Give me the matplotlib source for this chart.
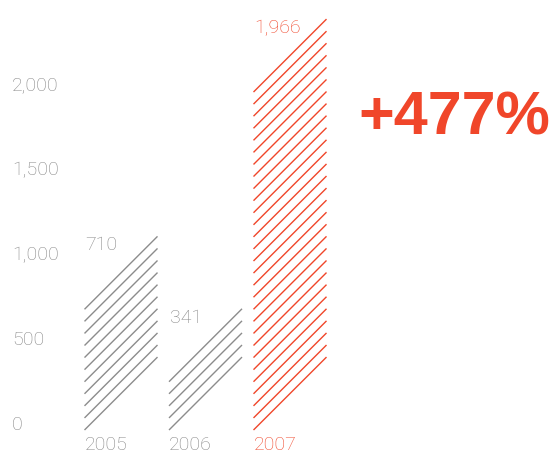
import numpy as np
import matplotlib
matplotlib.use("Agg")
import matplotlib.pyplot as plt
import matplotlib.transforms as mtransforms

# data
years = ["2005", "2006", "2007"]
values = [710, 341, 1966]
value_labels = ["710", "341", "1,966"]
ticks = [0, 500, 1000, 1500, 2000]
tick_labels = ["0", "500", "1,000", "1,500", "2,000"]
change_label = "+477%"

GRAY = "#8c8c8c"
TEXT_GRAY = "#858585"
RED = "#f0462a"
colors = [GRAY, GRAY, RED]

plt.rcParams["font.family"] = ["Roboto", "Liberation Sans", "DejaVu Sans"]
LIGHT = dict(fontsize=14, fontweight="light")

fig = plt.figure(figsize=(5.55, 4.53), dpi=100)
ax = fig.add_axes([0, 0, 1, 1])
ax.set_xlim(-1.432, 5.136)
ax.set_ylim(-135.3, 2529.4)
ax.axis("off")

width = 0.864        # bar width in category units
shear = 429          # rise of each hatch line across the bar (value units)
gap = 71             # distance between hatch lines (value units)
per_line = 70        # value represented by one hatch line

for i, (v, c) in enumerate(zip(values, colors)):
    n = int(v / per_line) + 1
    x0, x1 = i - width / 2, i + width / 2
    for k in range(n):
        y0 = k * gap
        ax.plot([x0, x1], [y0, y0 + shear], color=c, lw=1.0,
                solid_capstyle="butt")
    tc = c if c == RED else TEXT_GRAY
    top = (n - 1) * gap + shear
    ax.text(x0 + 0.01, top, value_labels[i], color=tc, va="top", ha="left", **LIGHT)
    ax.text(x0, -35, years[i], color=tc, va="top", ha="left", **LIGHT)

# y tick labels, baseline on the value
trans = mtransforms.blended_transform_factory(ax.transAxes, ax.transData)
for t, lab in zip(ticks, tick_labels):
    ax.text(12 / 555, t, lab, transform=trans, color=TEXT_GRAY,
            va="baseline", ha="left", **LIGHT)

ax.text(358 / 555, (453 - 119) / 453, change_label, transform=ax.transAxes,
        color=RED, fontsize=44, fontweight="bold", va="center", ha="left",
        family=["Liberation Sans", "DejaVu Sans"])

fig.savefig("out.png", dpi=100)
